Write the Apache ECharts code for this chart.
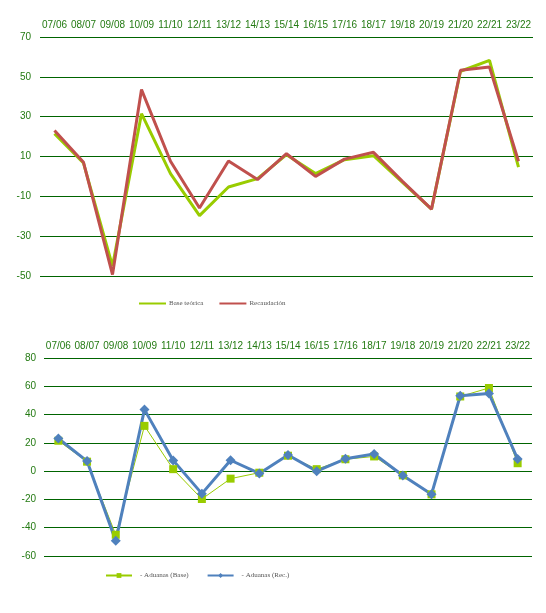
<!DOCTYPE html>
<html style="height: 100%">
<head>
    <meta charset="utf-8">
    <script src="https://cdn.jsdelivr.net/npm/echarts@6/dist/echarts.min.js"></script>
    <title>Base teórica y Recaudación</title>
</head>
<body style="height: 100%; margin: 0; background: #fff">
<div id="container" style="width: 546px; height: 613px"></div>
<script type="text/javascript">
    let categories = ["07/06", "08/07", "09/08", "10/09", "11/10", "12/11", "13/12", "14/13", "15/14",
        "16/15", "17/16", "18/17", "19/18", "20/19", "21/20", "22/21", "23/22"];

    // top chart
    let baseTeorica = [21.5, 6.7, -45, 31.5, 1.4, -19.7, -5.3, -1.1, 10.9, 1.4, 8.4, 10.4, -3, -16.4, 52.8, 58.3, 4.7];
    let recaudacion = [23.1, 7.1, -49.3, 43.6, 7.6, -15.9, 7.7, -1.6, 11.4, 0, 8.7, 12.1, -2.5, -16.4, 53.3, 54.9, 7.6];

    // bottom chart
    let aduanasBase = [21.5, 6.7, -45, 32, 1.4, -19.7, -5.3, -1.1, 10.9, 1.4, 8.4, 10.4, -3, -16.4, 52.8, 58.8, 5.6];
    let aduanasRec = [23.1, 7.1, -49.3, 43.5, 7.6, -15.9, 7.7, -1.6, 11.4, 0, 8.7, 12.1, -3.1, -16.3, 53.3, 54.9, 8.5];

    let labelColor = '#237a12';
    let gridColor = '#006400';
    let axisFont = 'Liberation Sans';

    function xAx(gridIndex) {
        return {
            type: 'category', gridIndex: gridIndex, position: 'top', data: categories,
            axisLine: {show: false}, axisTick: {show: false},
            axisLabel: {color: labelColor, fontFamily: axisFont, fontSize: 10, margin: 7, interval: 0}
        };
    }
    function yAx(gridIndex, min, max, margin) {
        return {
            type: 'value', gridIndex: gridIndex, min: min, max: max, interval: 20,
            axisLine: {show: false}, axisTick: {show: false},
            axisLabel: {color: labelColor, fontFamily: axisFont, fontSize: 10, margin: margin},
            splitLine: {lineStyle: {color: gridColor, width: 1}}
        };
    }

    let chart = echarts.init(document.getElementById("container"));
    chart.setOption({
        backgroundColor: '#fff',
        animation: false,
        grid: [
            {left: 40, right: 13, top: 37, height: 239},
            {left: 44, right: 14, top: 358, height: 198}
        ],
        xAxis: [xAx(0), xAx(1)],
        yAxis: [yAx(0, -50, 70, 9), yAx(1, -60, 80, 8)],
        legend: [
            {data: [{name: 'Base teórica', icon: 'rect'}, {name: 'Recaudación', icon: 'rect'}],
                left: 139, top: 300, padding: 0, itemWidth: 27, itemHeight: 2, itemGap: 16,
                textStyle: {fontFamily: 'Liberation Serif', fontSize: 7, color: '#555', padding: [0, 0, 0, -2]}},
            {data: ['- Aduanas (Base)', '- Aduanas (Rec.)'], left: 105, top: 572, padding: 0,
                itemWidth: 26, itemHeight: 6, itemGap: 18,
                textStyle: {fontFamily: 'Liberation Serif', fontSize: 7, color: '#555', padding: [0, 0, 0, 3]}}
        ],
        series: [
            {name: 'Base teórica', type: 'line', xAxisIndex: 0, yAxisIndex: 0, data: baseTeorica,
                symbol: 'none', color: '#99cc00', lineStyle: {width: 3}},
            {name: 'Recaudación', type: 'line', xAxisIndex: 0, yAxisIndex: 0, data: recaudacion,
                symbol: 'none', color: '#c0504d', lineStyle: {width: 3}},
            {name: '- Aduanas (Base)', type: 'line', xAxisIndex: 1, yAxisIndex: 1, data: aduanasBase,
                symbol: 'rect', symbolSize: 8, color: '#99cc00', lineStyle: {width: 1},
                itemStyle: {color: '#99cc00'}},
            {name: '- Aduanas (Rec.)', type: 'line', xAxisIndex: 1, yAxisIndex: 1, data: aduanasRec,
                symbol: 'diamond', symbolSize: 10, color: '#4f81bd', lineStyle: {width: 3},
                itemStyle: {color: '#4f81bd'}}
        ]
    }, true);
</script>
</body>
</html>
